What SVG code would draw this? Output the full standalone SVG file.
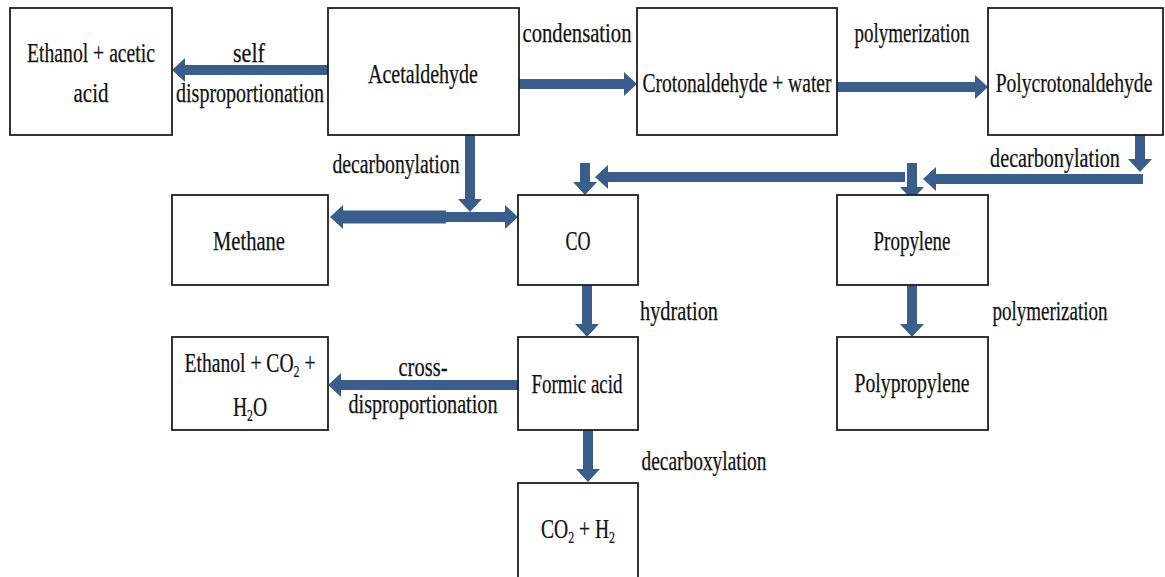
<svg xmlns="http://www.w3.org/2000/svg" width="1165" height="577" viewBox="0 0 1165 577">
  <style>
    .box { fill: #ffffff; stroke: #1e1e1e; stroke-width: 1.8; }
    .lbl { font-family: 'Liberation Serif', 'DejaVu Serif', serif; font-size: 28px; fill: #111111; stroke: #111111; stroke-width: 0.25; text-anchor: middle; }
    .sub { font-size: 17px; }
    .arr { fill: none; stroke: #3a5e8c; stroke-width: 10; stroke-linecap: butt; marker-end: url(#head); }
  </style>
  <defs>
    <marker id="head" markerUnits="userSpaceOnUse" viewBox="0 0 13 24" markerWidth="13" markerHeight="24" refX="1" refY="12" orient="auto">
      <path d="M0,0 L13,12 L0,24 Z" fill="#3a5e8c"/>
    </marker>
  </defs>
  <rect width="1165" height="577" fill="#ffffff"/>

  <!-- reaction arrows -->
  <g id="connectors">
    <path class="arr" d="M328,70 H184"/>
    <path class="arr" d="M519,84 H625"/>
    <path class="arr" d="M837,87 H976"/>
    <path class="arr" d="M470,135 V200"/>
    <path class="arr" d="M446,217 H342" style="stroke-width:13"/>
    <path class="arr" d="M440,217 H506"/>
    <path class="arr" d="M1140,135 V160"/>
    <path class="arr" d="M1143,179 H935"/>
    <path class="arr" d="M912,163 V188"/>
    <path class="arr" d="M905,177 H607"/>
    <path class="arr" d="M585,163 V183"/>
    <path class="arr" d="M587,285 V325"/>
    <path class="arr" d="M912,285 V325"/>
    <path class="arr" d="M518,385 H340"/>
    <path class="arr" d="M588,430 V470"/>
  </g>

  <!-- reaction labels -->
  <g id="labels">
    <text class="lbl" x="249" y="62" textLength="32" lengthAdjust="spacingAndGlyphs">self</text>
    <text class="lbl" x="250" y="102" textLength="148" lengthAdjust="spacingAndGlyphs">disproportionation</text>
    <text class="lbl" x="577" y="42" textLength="109" lengthAdjust="spacingAndGlyphs">condensation</text>
    <text class="lbl" x="912" y="42" textLength="115" lengthAdjust="spacingAndGlyphs">polymerization</text>
    <text class="lbl" x="396" y="173" textLength="127" lengthAdjust="spacingAndGlyphs">decarbonylation</text>
    <text class="lbl" transform="translate(1055,167) scale(0.72,1)" x="0" y="0">decarbonylation</text>
    <text class="lbl" x="679" y="320" textLength="78" lengthAdjust="spacingAndGlyphs">hydration</text>
    <text class="lbl" x="1050" y="320" textLength="115" lengthAdjust="spacingAndGlyphs">polymerization</text>
    <text class="lbl" x="423" y="376" textLength="49" lengthAdjust="spacingAndGlyphs">cross-</text>
    <text class="lbl" x="423" y="413" textLength="149" lengthAdjust="spacingAndGlyphs">disproportionation</text>
    <text class="lbl" x="704" y="470" textLength="125" lengthAdjust="spacingAndGlyphs">decarboxylation</text>
  </g>

  <g id="ethanol-acetic-acid">
    <rect class="box" x="10" y="8" width="162" height="127"/>
    <text class="lbl" x="91" y="62" textLength="128" lengthAdjust="spacingAndGlyphs">Ethanol + acetic</text>
    <text class="lbl" x="91" y="102" textLength="35" lengthAdjust="spacingAndGlyphs">acid</text>
  </g>
  <g id="acetaldehyde">
    <rect class="box" x="328" y="8" width="191" height="127"/>
    <text class="lbl" x="423" y="83" textLength="110" lengthAdjust="spacingAndGlyphs">Acetaldehyde</text>
  </g>
  <g id="crotonaldehyde-water">
    <rect class="box" x="637" y="8" width="200" height="127"/>
    <text class="lbl" x="737" y="92" textLength="189" lengthAdjust="spacingAndGlyphs">Crotonaldehyde + water</text>
  </g>
  <g id="polycrotonaldehyde">
    <rect class="box" x="988" y="8" width="175" height="127"/>
    <text class="lbl" transform="translate(1074,92) scale(0.7,1)" x="0" y="0">Polycrotonaldehyde</text>
  </g>
  <g id="methane">
    <rect class="box" x="172" y="195" width="156" height="90"/>
    <text class="lbl" x="249" y="250" textLength="72" lengthAdjust="spacingAndGlyphs">Methane</text>
  </g>
  <g id="co">
    <rect class="box" x="518" y="195" width="120" height="90"/>
    <text class="lbl" x="578" y="250" textLength="25" lengthAdjust="spacingAndGlyphs">CO</text>
  </g>
  <g id="propylene">
    <rect class="box" x="837" y="195" width="151" height="90"/>
    <text class="lbl" x="912" y="250" textLength="77" lengthAdjust="spacingAndGlyphs">Propylene</text>
  </g>
  <g id="ethanol-co2-h2o">
    <rect class="box" x="172" y="337" width="156" height="93"/>
    <!-- condensed by a horizontal scale so the subscripts stay in place -->
    <text class="lbl" transform="translate(250,372) scale(0.7,1)" x="0" y="0">Ethanol + CO<tspan class="sub" dy="5">2</tspan><tspan dy="-5"> +</tspan></text>
    <text class="lbl" transform="translate(250,416) scale(0.7,1)" x="0" y="0">H<tspan class="sub" dy="5">2</tspan><tspan dy="-5">O</tspan></text>
  </g>
  <g id="formic-acid">
    <rect class="box" x="518" y="337" width="120" height="93"/>
    <text class="lbl" x="577" y="393" textLength="91" lengthAdjust="spacingAndGlyphs">Formic acid</text>
  </g>
  <g id="polypropylene">
    <rect class="box" x="837" y="337" width="151" height="93"/>
    <text class="lbl" x="912" y="392" textLength="115" lengthAdjust="spacingAndGlyphs">Polypropylene</text>
  </g>
  <g id="co2-h2">
    <rect class="box" x="518" y="483" width="120" height="100"/>
    <text class="lbl" transform="translate(578,538) scale(0.7,1)" x="0" y="0">CO<tspan class="sub" dy="5">2</tspan><tspan dy="-5"> + H</tspan><tspan class="sub" dy="5">2</tspan></text>
  </g>
</svg>
